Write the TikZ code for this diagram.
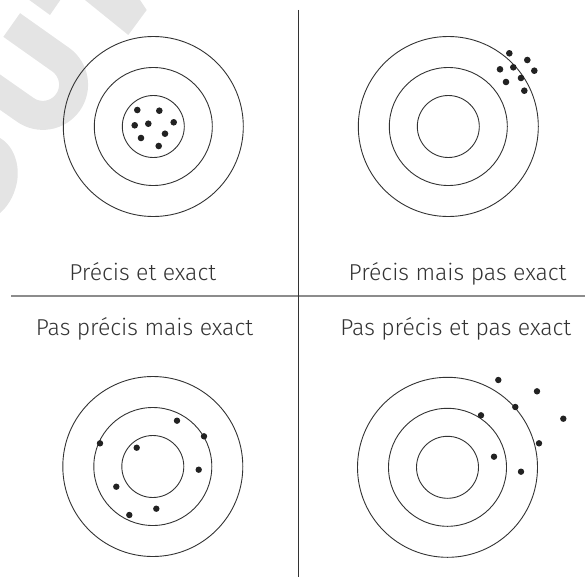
\documentclass[tikz,border=0pt]{standalone}
\usepackage{fontspec}
\setmainfont{Fira Sans Light}
\usetikzlibrary{positioning}
\definecolor{ringgray}{HTML}{333333}
\definecolor{shotgray}{HTML}{222222}
\definecolor{textgray}{HTML}{333333}
\definecolor{rulegray}{HTML}{8C8C8C}
\definecolor{markgray}{HTML}{E4E4E4}

\begin{document}
\begin{tikzpicture}[x=1pt,y=-1pt,
    ring/.style={draw=ringgray,line width=0.9pt},
    shot/.style={fill=shotgray},
    caption/.style={font=\fontsize{23}{27}\selectfont,text=textgray,anchor=base,inner sep=0pt},
    vrule/.style={draw=ringgray,line width=1.2pt},
    hrule/.style={draw=rulegray,line width=1.6pt},
    watermark/.style={fill=markgray}]

  \useasboundingbox (0,0) rectangle (585,578);

  % faded watermark in the corner
  \begin{scope}
    \clip (0,0) rectangle (585,578);
    \draw[draw=markgray,line width=29pt] (11.7,25) -- (60.6,59.6)
      arc[start angle=-54.7,end angle=125.3,radius=30.7] -- (-24.2,75.2);
    \fill[watermark] (0,138) .. controls (14,146) and (20,165) .. (17,182)
      .. controls (14,198) and (6,208) .. (0,213) -- cycle;
    \fill[watermark] (29.3,0) -- (60.3,0) -- (50,15) -- cycle;
    \fill[watermark] (85,0) -- (140,0) -- (146.7,10) -- (128.3,35) -- cycle;
  \end{scope}

  % target centres
  \coordinate (tl) at (153.3,126.5);
  \coordinate (tr) at (448.3,126.5);
  \coordinate (bl) at (152.8,466.5);
  \coordinate (br) at (447.5,467.3);

  \foreach \t in {tl,tr,bl,br}
    \foreach \r in {90,59,31}
      \draw[ring] (\t) circle[radius=\r];

  % shots
  \foreach \p in {(137.3,110),(159.3,110.7),(134.7,125.3),(148.3,123.7),
                  (173.7,122.3),(141,138),(165,133.7),(158.7,146)}
    \fill[shot] \p circle[radius=3.3];
  \foreach \p in {(509.3,53.3),(527.3,60),(500,69.3),(513.3,67.3),
                  (534.3,70.7),(506,82),(521,78),(524.3,90.7)}
    \fill[shot] \p circle[radius=3.3];
  \foreach \p in {(177,420.7),(204,436.3),(100,443.3),(136.7,447.7),
                  (198.7,469.7),(116.3,486.7),(156.3,508.7),(129.3,515)}
    \fill[shot] \p circle[radius=3.2];
  \foreach \p in {(498.3,380),(537,391.3),(515.3,407),(481,415.3),
                  (563.3,418.7),(539,443.3),(494,456.7),(521,471.7)}
    \fill[shot] \p circle[radius=3.2];

  % captions
  \node[caption] (cap-tl) at (142.7,280) {Précis et exact};
  \node[caption] (cap-tr) at (457.5,280) {Précis mais pas exact};
  \node[caption] (cap-bl) at (144.5,335) {Pas précis mais exact};
  \node[caption] (cap-br) at (455.8,335) {Pas précis et pas exact};

  % dividers
  \coordinate (vtop) at (298.3,10);
  \coordinate (vbot) at (298.3,577);
  \coordinate (hleft) at (11,296);
  \coordinate (hright) at (585,296);
  \draw[hrule] (hleft) -- (hright);
  \draw[vrule] (vtop) -- (vbot);
\end{tikzpicture}
\end{document}
